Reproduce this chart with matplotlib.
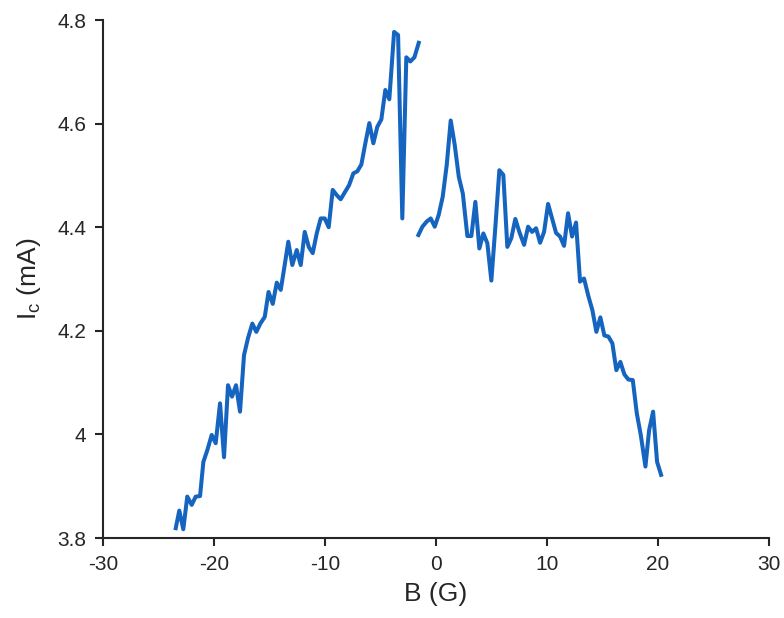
import matplotlib
matplotlib.use("Agg")
import matplotlib.pyplot as plt

plt.rcParams['font.family'] = ['Liberation Sans', 'DejaVu Sans']
plt.rcParams['mathtext.fontset'] = 'custom'
plt.rcParams['mathtext.rm'] = 'Liberation Sans'

# negative field sweep
b_neg = [-23.45, -23.13, -22.77, -22.41, -22.01, -21.65, -21.26, -20.96, -20.60, -20.21,
         -19.85, -19.46, -19.10, -18.74, -18.38, -18.02, -17.66, -17.30, -16.94, -16.55,
         -16.19, -15.83, -15.43, -15.09, -14.71, -14.35, -13.99, -13.65, -13.31, -12.95,
         -12.55, -12.19, -11.83, -11.47, -11.11, -10.75, -10.39, -10.03, -9.67, -9.31,
         -8.95, -8.59, -8.23, -7.84, -7.45, -7.09, -6.73, -6.37, -6.01, -5.65,
         -5.29, -4.93, -4.57, -4.21, -3.78, -3.42, -3.04, -2.68, -2.32, -1.95,
         -1.56]
ic_neg = [3.819, 3.853, 3.817, 3.880, 3.864, 3.880, 3.881, 3.947, 3.970, 3.999,
          3.983, 4.060, 3.956, 4.095, 4.073, 4.095, 4.044, 4.153, 4.186, 4.214,
          4.198, 4.214, 4.227, 4.275, 4.252, 4.293, 4.279, 4.325, 4.372, 4.327,
          4.356, 4.327, 4.391, 4.362, 4.350, 4.388, 4.417, 4.417, 4.400, 4.472,
          4.462, 4.454, 4.467, 4.481, 4.504, 4.508, 4.521, 4.562, 4.601, 4.562,
          4.594, 4.608, 4.665, 4.647, 4.777, 4.771, 4.417, 4.728, 4.720, 4.728,
          4.756]

# positive field sweep
b_pos = [-1.59, -1.23, -0.84, -0.48, -0.12, 0.24, 0.60, 0.96, 1.32, 1.68,
         2.05, 2.41, 2.82, 3.18, 3.54, 3.90, 4.26, 4.62, 4.98, 5.34,
         5.70, 6.06, 6.42, 6.78, 7.14, 7.50, 7.93, 8.29, 8.65, 9.01,
         9.37, 9.73, 10.09, 10.45, 10.81, 11.17, 11.53, 11.89, 12.25, 12.61,
         12.97, 13.33, 13.72, 14.08, 14.44, 14.80, 15.16, 15.52, 15.88, 16.24,
         16.60, 16.96, 17.32, 17.72, 18.08, 18.44, 18.86, 19.19, 19.55, 19.91,
         20.27]
ic_pos = [4.385, 4.401, 4.411, 4.417, 4.401, 4.424, 4.459, 4.520, 4.606, 4.559,
          4.497, 4.465, 4.383, 4.383, 4.449, 4.359, 4.388, 4.369, 4.297, 4.400,
          4.510, 4.501, 4.362, 4.379, 4.416, 4.391, 4.366, 4.401, 4.391, 4.398,
          4.370, 4.391, 4.445, 4.417, 4.389, 4.382, 4.364, 4.427, 4.382, 4.409,
          4.295, 4.301, 4.267, 4.240, 4.198, 4.226, 4.191, 4.189, 4.176, 4.124,
          4.140, 4.116, 4.106, 4.105, 4.041, 3.999, 3.938, 4.008, 4.044, 3.947,
          3.922]

x_ticks = [-30, -20, -10, 0, 10, 20, 30]
y_ticks = [3.8, 4.0, 4.2, 4.4, 4.6, 4.8]
y_ticklabels = ['3.8', '4', '4.2', '4.4', '4.6', '4.8']

line_color = '#1565c0'
ink = '#262626'

fig = plt.figure(figsize=(7.84, 6.18), dpi=100)
ax = fig.add_axes([0.1314, 0.1294, 0.8496, 0.8382])

ax.plot(b_neg, ic_neg, color=line_color, lw=2.9, solid_joinstyle='round')
ax.plot(b_pos, ic_pos, color=line_color, lw=2.9, solid_joinstyle='round')

ax.set_xlim(-30, 30)
ax.set_ylim(3.8, 4.8)
ax.set_xticks(x_ticks)
ax.set_xticklabels([str(t) for t in x_ticks])
ax.set_yticks(y_ticks)
ax.set_yticklabels(y_ticklabels)

for s in ['top', 'right']:
    ax.spines[s].set_visible(False)
for s in ['left', 'bottom']:
    ax.spines[s].set_color(ink)
    ax.spines[s].set_linewidth(1.5)

ax.tick_params(direction='out', length=6, width=1.5, color=ink,
               labelcolor=ink, labelsize=15, pad=6)

ax.set_xlabel('B (G)', fontsize=19, color=ink, labelpad=6)
ax.set_ylabel(r'$\mathregular{I_c}$ (mA)', fontsize=19, color=ink, labelpad=10)

fig.savefig('out.png', dpi=100)
